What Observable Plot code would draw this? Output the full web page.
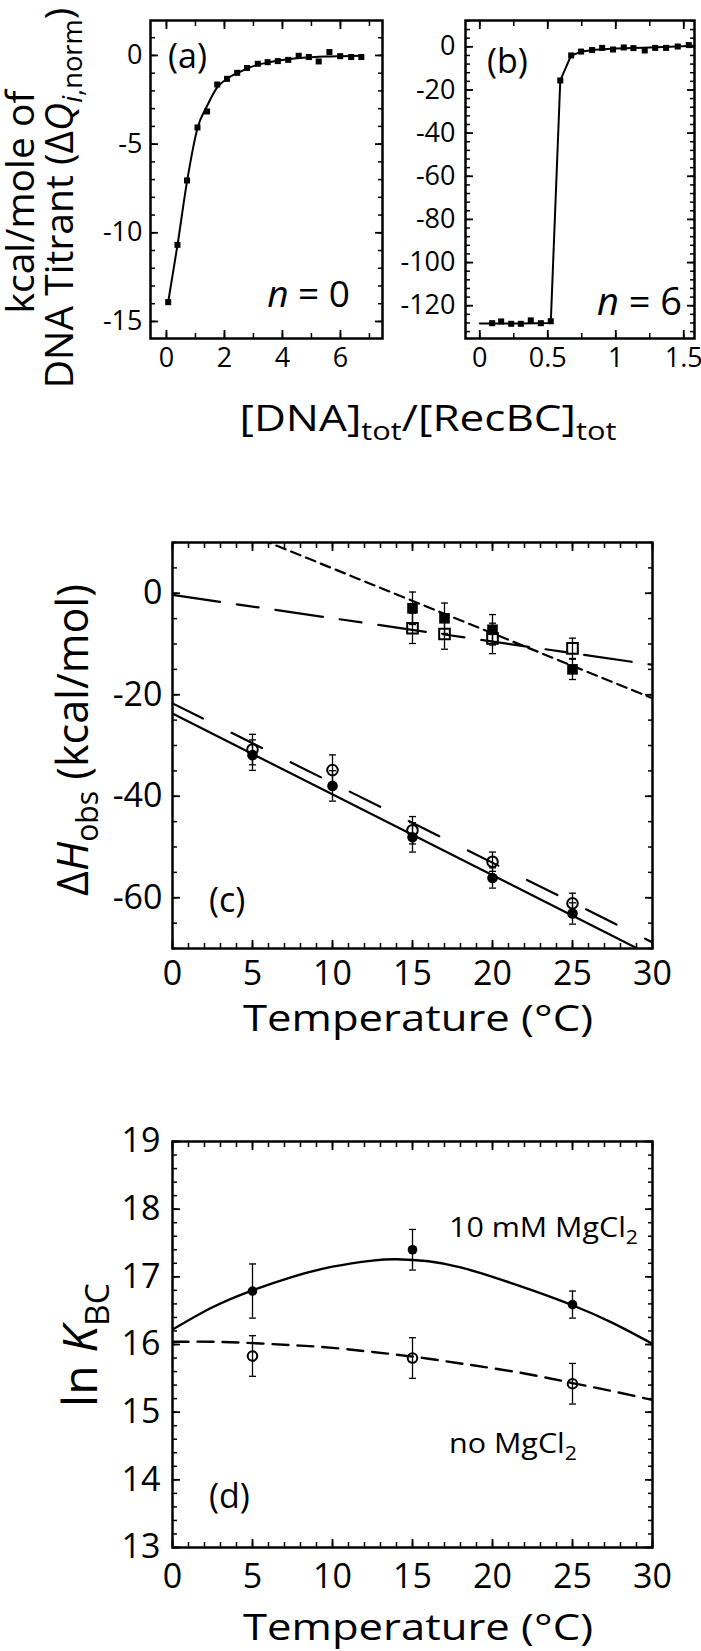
<!DOCTYPE html>
<html><head><meta charset="utf-8">
<script src="https://cdn.jsdelivr.net/npm/d3@7"></script>
<script src="https://cdn.jsdelivr.net/npm/@observablehq/plot@0.6"></script>
<style>
html,body{margin:0;padding:0;background:#fff;}
#fig{position:relative;width:701px;height:1651px;overflow:hidden;background:#fff;}
#fig svg{position:absolute;}
</style></head><body><div id="fig"></div>
<script>
// ---------- Panel (a): n = 0 titration ----------
const aRatio = [0.06, 0.38, 0.71, 1.07, 1.40, 1.75, 2.09, 2.44, 2.78, 3.15, 3.49, 3.84, 4.20, 4.56, 4.91, 5.25, 5.62, 5.99, 6.37, 6.72];
const aHeat  = [-13.91, -10.68, -7.05, -4.06, -3.16, -1.64, -1.32, -0.98, -0.71, -0.47, -0.38, -0.32, -0.25, -0.02, -0.09, -0.34, 0.19, -0.04, -0.09, -0.09];
const aFitRatio = [0.06, 0.38, 0.71, 1.07, 1.40, 1.75, 2.10, 2.50, 3.00, 3.50, 4.00, 4.50, 5.00, 5.50, 6.00, 6.72];
const aFitHeat  = [-13.9, -10.7, -7.1, -4.1, -2.85, -1.8, -1.3, -0.95, -0.6, -0.4, -0.26, -0.16, -0.1, -0.06, -0.04, -0.02];
const aXTicks = [0, 2, 4, 6];
const aYTicks = [0, -5, -10, -15];

// ---------- Panel (b): n = 6 titration ----------
const bRatio = [0.091, 0.157, 0.231, 0.302, 0.375, 0.449, 0.522, 0.592, 0.672, 0.745, 0.826, 0.900, 0.980, 1.059, 1.130, 1.213, 1.290, 1.370, 1.456, 1.537];
const bHeat  = [-128.1, -127.3, -128.4, -128.4, -126.8, -128.1, -127.2, -15.6, -4.0, -2.2, -1.5, -0.5, -1.25, -0.3, -0.6, -1.7, -0.5, -0.5, 0.15, 0.8];
const bFitRatio = [0.0, 0.3, 0.522, 0.592, 0.672, 0.75, 0.85, 1.0, 1.2, 1.4, 1.579];
const bFitHeat  = [-128.3, -128.2, -128.0, -15.6, -4.0, -2.2, -1.4, -0.8, -0.4, 0.0, 0.5];
const bXTicks = [0, 0.5, 1, 1.5];
const bYTicks = [0, -20, -40, -60, -80, -100, -120];

// ---------- Panel (c): ΔH_obs vs temperature ----------
const cTempSq = [15, 17, 20, 25];
const cFilledSq = [-2.96, -4.93, -7.2, -15.0];
const cFilledSqErr = [3.2, 3, 3, 2];
const cOpenSq = [-6.9, -8.03, -8.9, -10.85];
const cOpenSqErr = [3, 3, 3, 2];
const cTempCirc = [5, 10, 15, 20, 25];
const cFilledCirc = [-31.9, -37.96, -48.1, -56.1, -63.1];
const cFilledCircErr = [3, 3, 2.9, 2, 2.1];
const cOpenCirc = [-30.8, -34.85, -46.7, -52.9, -61.1];
const cOpenCircErr = [3, 3, 2.7, 1.9, 2];
const cFitT = [0, 30];
const cFitFilledSq = [17.7, -20.7];
const cFitOpenSq = [-0.33, -14.1];
const cFitFilledCirc = [-23.7, -71.5];
const cFitOpenCirc = [-21.7, -68.8];
const cXTicks = [0, 5, 10, 15, 20, 25, 30];
const cYTicks = [0, -20, -40, -60];

// ---------- Panel (d): ln K_BC vs temperature ----------
const dTemp = [5, 15, 25];
const dMg = [16.79, 17.40, 16.59];
const dMgErr = [0.4, 0.3, 0.2];
const dNoMg = [15.83, 15.80, 15.42];
const dNoMgErr = [0.3, 0.3, 0.3];
const dFitT = [0, 2.5, 5, 7.5, 10, 12.5, 14, 16, 18, 20, 22.5, 25, 27.5, 30];
const dFitMg = [16.22, 16.55, 16.80, 17.00, 17.15, 17.24, 17.26, 17.23, 17.14, 17.00, 16.80, 16.58, 16.32, 16.01];
const dFitNoMg = [16.04, 16.04, 16.02, 15.99, 15.95, 15.89, 15.85, 15.79, 15.72, 15.65, 15.55, 15.43, 15.31, 15.18];
const dXTicks = [0, 5, 10, 15, 20, 25, 30];
const dYTicks = [13, 14, 15, 16, 17, 18, 19];

// ---------- helpers ----------
const FONT = "Open Sans";
const fmt = d => String(d);
const zip = (xs, ys, es) => xs.map((x, i) => ({x, y: ys[i], e: es ? es[i] : 0}));
const capSym = {draw(ctx, size) { const w = Math.sqrt(size / Math.PI); ctx.moveTo(-w, 0); ctx.lineTo(w, 0); }};
const fig = document.getElementById("fig");

function axes(xMaj, xMin, yMaj, yMin, o) {
  const m = [
    Plot.axisX(xMaj, {anchor: "bottom", tickSize: 0, tickPadding: o.px, tickFormat: fmt, label: null, fontSize: o.fs}),
    Plot.axisY(yMaj, {anchor: "left", tickSize: 0, tickPadding: o.py, tickFormat: fmt, label: null, fontSize: o.fs})
  ];
  for (const a of ["bottom", "top"]) {
    m.push(Plot.axisX(xMaj, {anchor: a, tickSize: -8, fill: "none", label: null, strokeWidth: 1.8}));
    m.push(Plot.axisX(xMin, {anchor: a, tickSize: -5, fill: "none", label: null, strokeWidth: 1.5}));
  }
  for (const a of ["left", "right"]) {
    m.push(Plot.axisY(yMaj, {anchor: a, tickSize: -8, fill: "none", label: null, strokeWidth: 1.8}));
    m.push(Plot.axisY(yMin, {anchor: a, tickSize: -5, fill: "none", label: null, strokeWidth: 1.5}));
  }
  m.push(Plot.frame({stroke: "black", strokeWidth: 2.5}));
  return m;
}

function panel(f, xd, yd, marks) {
  const mL = 80, mR = 14, mT = 14, mB = 70;
  const svg = Plot.plot({
    width: f.R - f.L + mL + mR,
    height: f.B - f.T + mT + mB,
    marginLeft: mL, marginRight: mR, marginTop: mT, marginBottom: mB,
    x: {domain: xd, label: null},
    y: {domain: yd, label: null},
    style: {fontFamily: FONT, background: "transparent", overflow: "visible", color: "black"},
    marks
  });
  svg.style.position = "absolute";
  svg.style.left = (f.L - mL) + "px";
  svg.style.top = (f.T - mT) + "px";
  fig.appendChild(svg);
}

function errBars(data, capR) {
  return [
    Plot.ruleX(data, {x: "x", y1: d => d.y - d.e, y2: d => d.y + d.e, stroke: "black", strokeWidth: 1.3}),
    Plot.dot(data, {x: "x", y: d => d.y + d.e, symbol: capSym, r: capR, fill: "none", stroke: "black", strokeWidth: 1.3}),
    Plot.dot(data, {x: "x", y: d => d.y - d.e, symbol: capSym, r: capR, fill: "none", stroke: "black", strokeWidth: 1.3})
  ];
}

const range = (a, b, s) => d3.range(Math.round((b - a) / s) + 1).map(i => +(a + i * s).toFixed(6));

// ---------- Panel (a) ----------
panel({L: 150, R: 382, T: 20, B: 338}, [-0.55, 7.45], [-15.96, 1.97], [
  ...axes(aXTicks, range(0, 7, 1), aYTicks, range(-15, 1, 1), {px: 9, py: 8, fs: 27}),
  Plot.line(zip(aFitRatio, aFitHeat), {x: "x", y: "y", stroke: "black", strokeWidth: 2, curve: "monotone-x"}),
  Plot.dot(zip(aRatio, aHeat), {x: "x", y: "y", symbol: "square", r: 3.4, fill: "black"})
]);

// ---------- Panel (b) ----------
panel({L: 465, R: 694, T: 20, B: 338}, [-0.105, 1.579], [-135.2, 12.2], [
  ...axes(bXTicks, range(0, 1.5, 0.25), bYTicks, range(-132, 12, 4), {px: 9, py: 10, fs: 27}),
  Plot.line(zip(bFitRatio, bFitHeat), {x: "x", y: "y", stroke: "black", strokeWidth: 2}),
  Plot.dot(zip(bRatio, bHeat), {x: "x", y: "y", symbol: "square", r: 3.4, fill: "black"})
]);

// ---------- Panel (c) ----------
panel({L: 172, R: 652, T: 542, B: 948}, [0, 30], [-70, 10], [
  ...axes(cXTicks, range(0, 30, 1), cYTicks, range(-70, 10, 5), {px: 12, py: 10, fs: 34}),
  Plot.line(zip(cFitT, cFitFilledSq), {x: "x", y: "y", stroke: "black", strokeWidth: 2.2, strokeDasharray: "10,6", clip: true}),
  Plot.line(zip(cFitT, cFitOpenSq), {x: "x", y: "y", stroke: "black", strokeWidth: 2.2, strokeDasharray: "48,17,22,17", clip: true}),
  Plot.line(zip(cFitT, cFitFilledCirc), {x: "x", y: "y", stroke: "black", strokeWidth: 2.2, clip: true}),
  Plot.line(zip(cFitT, cFitOpenCirc), {x: "x", y: "y", stroke: "black", strokeWidth: 2.2, strokeDasharray: "34,32", clip: true}),
  Plot.dot(zip(cTempSq, cFilledSq), {x: "x", y: "y", symbol: "square", r: 6.0, fill: "black"}),
  Plot.dot(zip(cTempSq, cOpenSq), {x: "x", y: "y", symbol: "square", r: 6.0, fill: "none", stroke: "black", strokeWidth: 2}),
  Plot.dot(zip(cTempCirc, cFilledCirc), {x: "x", y: "y", r: 5.3, fill: "black"}),
  Plot.dot(zip(cTempCirc, cOpenCirc), {x: "x", y: "y", r: 5.3, fill: "none", stroke: "black", strokeWidth: 2}),
  ...errBars(zip(cTempSq, cFilledSq, cFilledSqErr), 3.5),
  ...errBars(zip(cTempSq, cOpenSq, cOpenSqErr), 3.5),
  ...errBars(zip(cTempCirc, cFilledCirc, cFilledCircErr), 3.5),
  ...errBars(zip(cTempCirc, cOpenCirc, cOpenCircErr), 3.5)
]);

// ---------- Panel (d) ----------
panel({L: 172, R: 652, T: 1141, B: 1547}, [0, 30], [13, 19], [
  ...axes(dXTicks, range(0, 30, 1), dYTicks, range(13, 19, 0.2), {px: 16, py: 12, fs: 34}),
  Plot.line(zip(dFitT, dFitMg), {x: "x", y: "y", stroke: "black", strokeWidth: 2.4, curve: "natural", clip: true}),
  Plot.line(zip(dFitT, dFitNoMg), {x: "x", y: "y", stroke: "black", strokeWidth: 2.4, curve: "natural", strokeDasharray: "16,9", clip: true}),
  Plot.dot(zip(dTemp, dMg), {x: "x", y: "y", r: 4.8, fill: "black"}),
  Plot.dot(zip(dTemp, dNoMg), {x: "x", y: "y", r: 4.8, fill: "none", stroke: "black", strokeWidth: 2}),
  ...errBars(zip(dTemp, dMg, dMgErr), 3.5),
  ...errBars(zip(dTemp, dNoMg, dNoMgErr), 3.5)
]);

// ---------- Text overlay ----------
const ov = d3.select(fig).append("svg")
  .attr("width", 701).attr("height", 1651)
  .style("left", "0px").style("top", "0px").style("pointer-events", "none")
  .attr("font-family", FONT).attr("fill", "black");

function label(parts, {x, y, size, anchor = "start", rotate = 0, length = null}) {
  const t = ov.append("text")
    .attr("transform", `translate(${x},${y}) rotate(${rotate})`)
    .attr("text-anchor", anchor).attr("font-size", size);
  if (length) t.attr("textLength", length).attr("lengthAdjust", "spacingAndGlyphs");
  let shifted = 0;
  for (const p of parts) {
    const s = t.append("tspan").text(p.t);
    if (p.italic) s.attr("font-style", "italic");
    const want = p.sub ? Math.round(size * 0.24) : 0;
    if (want !== shifted) { s.attr("dy", want - shifted); shifted = want; }
    if (p.sub) s.attr("font-size", size * 0.7);
  }
  return t;
}

label([{t: "(a)"}], {x: 168, y: 68, size: 34});
label([{t: "(b)"}], {x: 487, y: 73, size: 34});
label([{t: "n", italic: true}, {t: " = 0"}], {x: 350, y: 307, size: 37, anchor: "end"});
label([{t: "n", italic: true}, {t: " = 6"}], {x: 682, y: 315, size: 38, anchor: "end"});
label([{t: "kcal/mole of"}], {x: 34, y: 202, size: 39, anchor: "middle", rotate: -90});
label([{t: "DNA Titrant (Δ"}, {t: "Q", italic: true}, {t: "i", italic: true, sub: true}, {t: ",norm", sub: true}, {t: ")"}],
  {x: 73, y: 198, size: 39, anchor: "middle", rotate: -90});
label([{t: "[DNA]"}, {t: "tot", sub: true}, {t: "/[RecBC]"}, {t: "tot", sub: true}], {x: 428, y: 431, size: 36, anchor: "middle", length: 377});

label([{t: "Δ"}, {t: "H", italic: true}, {t: "obs", sub: true}, {t: " (kcal/mol)"}], {x: 88, y: 740, size: 43, anchor: "middle", rotate: -90});
label([{t: "(c)"}], {x: 209, y: 912, size: 34});
label([{t: "Temperature (°C)"}], {x: 418, y: 1031, size: 37, anchor: "middle", length: 350});

label([{t: "ln "}, {t: "K", italic: true}, {t: "BC", sub: true}], {x: 97, y: 1345, size: 48, anchor: "middle", rotate: -90});
label([{t: "10 mM MgCl"}, {t: "2", sub: true}], {x: 449, y: 1237, size: 28, length: 189});
label([{t: "no MgCl"}, {t: "2", sub: true}], {x: 449, y: 1453, size: 28, length: 128});
label([{t: "(d)"}], {x: 209, y: 1508, size: 34});
label([{t: "Temperature (°C)"}], {x: 418, y: 1640, size: 37, anchor: "middle", length: 350});
</script>
</body></html>
